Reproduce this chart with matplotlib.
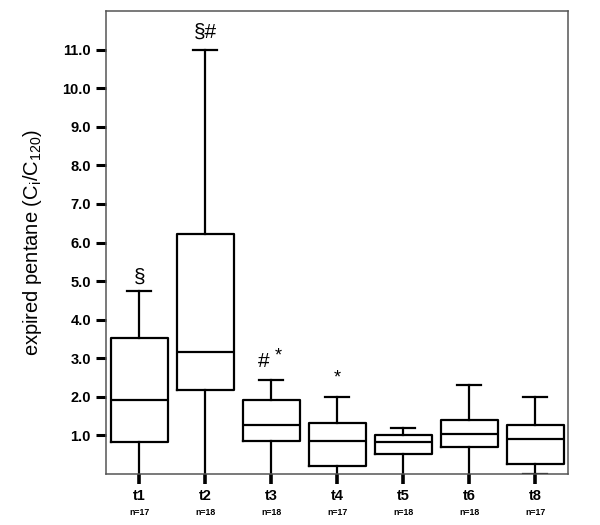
import matplotlib
matplotlib.use("Agg")
import matplotlib.pyplot as plt
import matplotlib.transforms as mtransforms

plt.rcParams['font.family'] = ['Liberation Sans', 'DejaVu Sans']

# values
labels = ['t1', 't2', 't3', 't4', 't5', 't6', 't8']
counts = ['n=17', 'n=18', 'n=18', 'n=17', 'n=18', 'n=18', 'n=17']
whis_hi = [4.74, 11.0, 2.45, 1.99, 1.20, 2.32, 1.99]
q3 = [3.53, 6.21, 1.91, 1.32, 1.00, 1.41, 1.26]
med = [1.91, 3.17, 1.28, 0.87, 0.83, 1.03, 0.90]
q1 = [0.83, 2.17, 0.87, 0.20, 0.53, 0.70, 0.27]
whis_lo = [0.0, 0.0, 0.0, 0.0, 0.0, 0.0, 0.0]
marks = ['§', '§#', '#*', '*', '', '', '']
mark_y = [5.1, 11.45, 2.92, 2.5, 0, 0, 0]

stats = []
for i in range(len(labels)):
    stats.append(dict(whishi=whis_hi[i], q3=q3[i], med=med[i], q1=q1[i],
                      whislo=whis_lo[i], fliers=[], label=labels[i]))

fig = plt.figure(figsize=(6, 5.25), dpi=100)
ax = fig.add_axes([0.177, 0.097, 0.770, 0.882])

pos = list(range(1, len(labels) + 1))
lw = 1.6
bp = ax.bxp(stats, positions=pos, widths=0.86, capwidths=0.36,
            showfliers=False,
            boxprops=dict(color='black', linewidth=lw),
            medianprops=dict(color='black', linewidth=lw),
            whiskerprops=dict(color='black', linewidth=lw),
            capprops=dict(color='black', linewidth=lw))

# lower caps only visible for t8 in the original
for i, cap in enumerate(bp['caps'][0::2]):
    if labels[i] != 't8':
        cap.set_visible(False)

ax.set_xlim(0.5, 7.5)
ax.set_ylim(0, 12)
ax.set_yticks([1, 2, 3, 4, 5, 6, 7, 8, 9, 10, 11])
ax.set_yticklabels([f"{v:.1f}" for v in range(1, 12)], fontsize=10.5, fontweight='bold')
ax.set_xticks(pos)
ax.set_xticklabels(labels, fontsize=10.5, fontweight='bold')
ax.tick_params(axis='y', direction='out', length=7, width=2.2, pad=4)
ax.tick_params(axis='x', direction='out', length=7, width=2.6, pad=4)

for sp in ax.spines.values():
    sp.set_color('#555555')
    sp.set_linewidth(1.1)

trans = mtransforms.blended_transform_factory(ax.transData, ax.transAxes)
for p, c in zip(pos, counts):
    ax.text(p, -0.082, c, transform=trans, ha='center', va='center',
            fontsize=6.3, fontweight='bold')

for p, m, y in zip(pos, marks, mark_y):
    if m == '':
        continue
    if m == '#*':
        ax.text(p - 0.12, y, '#', ha='center', va='center', fontsize=15)
        ax.text(p + 0.1, y + 0.15, '*', ha='center', va='center', fontsize=13)
    elif m == '*':
        ax.text(p, y, '*', ha='center', va='center', fontsize=13)
    else:
        ax.text(p, y, m, ha='center', va='center', fontsize=15)

ax.set_ylabel('expired pentane (C$_\\mathregular{i}$/C$_\\mathregular{120}$)', fontsize=14.5)
ax.yaxis.set_label_coords(-0.135, 0.5)

fig.savefig('out.png', dpi=100)
